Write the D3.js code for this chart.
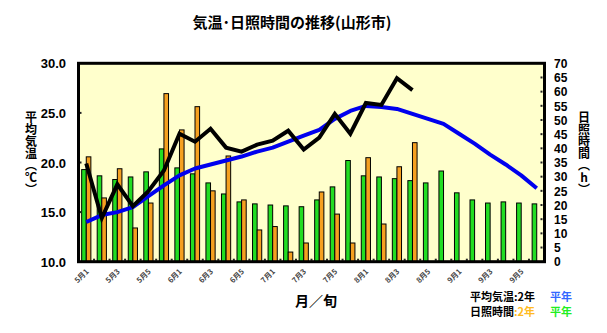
<!DOCTYPE html>
<html><head><meta charset="utf-8">
<script src="https://cdn.jsdelivr.net/npm/d3@7"></script>
<style>
html,body{margin:0;padding:0;background:#fff;}
svg{display:block;}
.jp{font-family:"Noto Sans CJK JP","Noto Sans CJK SC",sans-serif;font-weight:bold;}
.num{font-family:"Liberation Sans Narrow","Arial Narrow","Liberation Sans",sans-serif;font-weight:bold;}
</style></head>
<body>
<svg id="c" width="607" height="333"></svg>
<script>
const categories = ["5月1","5月2","5月3","5月4","5月5","5月6",
  "6月1","6月2","6月3","6月4","6月5","6月6",
  "7月1","7月2","7月3","7月4","7月5","7月6",
  "8月1","8月2","8月3","8月4","8月5","8月6",
  "9月1","9月2","9月3","9月4","9月5","9月6"];
const tickLabels = ["5月1","5月3","5月5","6月1","6月3","6月5","7月1","7月3","7月5","8月1","8月3","8月5","9月1","9月3","9月5"];
// 日照時間 2年 (h)
const sun2020 = [37.0,22.5,32.8,11.9,20.7,59.3,46.5,54.7,25.0,37.3,21.8,11.2,12.4,3.4,6.6,24.6,16.8,6.6,36.7,13.3,33.5,42.0];
// 日照時間 平年 (h)
const sunNormal = [32.5,30.3,29.0,29.9,31.7,39.8,33.1,31.0,27.8,23.9,21.1,20.4,20.0,19.7,19.4,21.8,26.4,35.7,30.3,29.9,29.3,28.6,27.8,32.0,24.3,21.8,20.7,21.1,20.7,20.4];
// 平均気温 2年 (℃)
const temp2020 = [19.9,14.4,17.8,15.6,17.1,19.2,22.9,22.1,23.4,21.5,21.1,21.8,22.2,23.2,21.3,22.5,24.9,22.9,26.0,25.8,28.5,27.3];
// 平均気温 平年 (℃)
const tempNormal = [14.0,14.7,15.0,15.5,16.6,17.7,18.7,19.4,19.8,20.2,20.6,21.1,21.5,22.1,22.7,23.3,24.4,25.2,25.7,25.6,25.4,24.9,24.4,23.9,22.9,21.9,20.8,19.8,18.7,17.4];
const tempTicks = [10,15,20,25,30];
const sunTicks = [0,5,10,15,20,25,30,35,40,45,50,55,60,65,70];

const svg = d3.select("#c");
const L = 78.5, R = 544.5, T = 63.3, B = 261.7;
const x = d3.scaleBand().domain(categories).range([L, R]).padding(0);
const yT = d3.scaleLinear().domain([10, 30]).range([B, T]);
const yS = d3.scaleLinear().domain([0, 70]).range([B, T]);
const cx = c => x(c) + x.bandwidth() / 2;

// title
svg.append("text").attr("class","jp").attr("x",292).attr("y",28).attr("text-anchor","middle")
  .attr("font-size",15).attr("fill","#000").text("気温･日照時間の推移(山形市)");

// plot bg
svg.append("rect").attr("x",L).attr("y",T).attr("width",R-L).attr("height",B-T).attr("fill","#ffffcc");

// bars
const bw = 4.6;
svg.append("g").selectAll("rect").data(sunNormal).join("rect")
  .attr("x",(d,i)=>cx(categories[i]) - bw).attr("width",bw)
  .attr("y",d=>yS(d)).attr("height",d=>yS(0)-yS(d))
  .attr("fill","#22dd22").attr("stroke","#000").attr("stroke-width",1);
svg.append("g").selectAll("rect").data(sun2020).join("rect")
  .attr("x",(d,i)=>cx(categories[i])).attr("width",bw)
  .attr("y",d=>yS(d)).attr("height",d=>yS(0)-yS(d))
  .attr("fill","#f5a020").attr("stroke","#000").attr("stroke-width",1);

// lines
const line = d3.line().x((d,i)=>cx(categories[i])).y(d=>yT(d));
svg.append("path").datum(tempNormal).attr("d",line).attr("fill","none")
  .attr("stroke","#0000ee").attr("stroke-width",4).attr("stroke-linejoin","round");
svg.append("path").datum(temp2020).attr("d",line).attr("fill","none")
  .attr("stroke","#000").attr("stroke-width",4).attr("stroke-linejoin","miter");

// bottom tick marks at category boundaries
svg.append("g").selectAll("rect").data(categories.slice(1)).join("rect")
  .attr("x",d=>x(d)-1).attr("y",B-3).attr("width",2).attr("height",2).attr("fill","#222");
// left ticks
svg.append("g").selectAll("rect").data(tempTicks.slice(1,-1)).join("rect")
  .attr("x",L+1).attr("y",d=>yT(d)-1).attr("width",2).attr("height",2).attr("fill","#222");
// right ticks
svg.append("g").selectAll("rect").data(sunTicks.slice(1,-1)).join("rect")
  .attr("x",R-4).attr("y",d=>yS(d)-1).attr("width",2).attr("height",2).attr("fill","#222");

// frame
svg.append("rect").attr("x",L).attr("y",T).attr("width",R-L).attr("height",B-T)
  .attr("fill","none").attr("stroke","#000").attr("stroke-width",3);

// left axis labels
const leftAxis = d3.axisLeft(yT).tickValues(tempTicks).tickFormat(d3.format(".1f")).tickSize(0).tickPadding(0);
const gl = svg.append("g").attr("transform","translate(66,0)").call(leftAxis);
gl.select(".domain").remove();
gl.selectAll("text").attr("class","num").attr("font-size",13).attr("fill","#000").attr("dy","0.35em");

// right axis labels
const rightAxis = d3.axisRight(yS).tickValues(sunTicks).tickSize(0).tickPadding(0);
const gr = svg.append("g").attr("transform","translate(554,0)").call(rightAxis);
gr.select(".domain").remove();
gr.selectAll("text").attr("class","num").attr("font-size",12).attr("fill","#000").attr("dy","0.35em");

// x tick labels
svg.append("g").selectAll("text").data(tickLabels).join("text")
  .attr("class","jp")
  .attr("transform",d=>`translate(${cx(d)+3},${272}) rotate(-45)`)
  .attr("text-anchor","end").attr("font-size",7.5).attr("font-weight","normal")
  .attr("fill","#444").text(d=>d);

// axis titles
svg.append("text").attr("class","jp").attr("x",31).attr("y",153)
  .style("writing-mode","vertical-rl").style("text-orientation","upright")
  .attr("text-anchor","middle").attr("font-size",12).text("平均気温（℃）");
svg.append("text").attr("class","jp").attr("x",584).attr("y",153)
  .style("writing-mode","vertical-rl").style("text-orientation","upright")
  .attr("text-anchor","middle").attr("font-size",12).text("日照時間（h）");
svg.append("text").attr("class","jp").attr("x",316).attr("y",306)
  .attr("text-anchor","middle").attr("font-size",14).text("月／旬");

// legend
const lg = svg.append("g").attr("class","jp").attr("font-size",11);
const t1 = lg.append("text").attr("x",470).attr("y",301);
t1.append("tspan").attr("fill","#000").text("平均気温:2年");
lg.append("text").attr("x",550).attr("y",301).attr("fill","#3366ff").text("平年");
const t2 = lg.append("text").attr("x",470).attr("y",316);
t2.append("tspan").attr("fill","#000").text("日照時間");
t2.append("tspan").attr("fill","#ffbb22").text(":2年");
lg.append("text").attr("x",550).attr("y",316).attr("fill","#22ee22").text("平年");
</script>
</body></html>
